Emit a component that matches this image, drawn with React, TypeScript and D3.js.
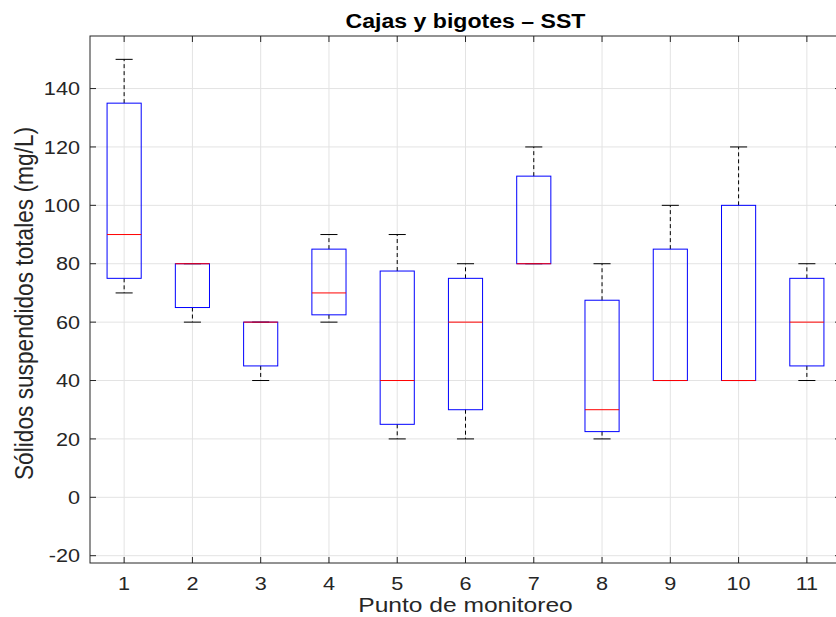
import { useEffect, useRef } from 'react';
import * as d3 from 'd3';

// Punto de monitoreo
const puntos = [1, 2, 3, 4, 5, 6, 7, 8, 9, 10, 11];
// box statistics (mg/L)
const whiskerLow = [70, 60, 40, 60, 20, 20, 80, 20, 40, 40, 40];
const q1 = [75, 65, 45, 62.5, 25, 30, 80, 22.5, 40, 40, 45];
const median = [90, 80, 60, 70, 40, 60, 80, 30, 40, 40, 60];
const q3 = [135, 80, 60, 85, 77.5, 75, 110, 67.5, 85, 100, 75];
const whiskerHigh = [150, 80, 60, 90, 90, 80, 120, 80, 100, 120, 80];
const yTicks = [-20, 0, 20, 40, 60, 80, 100, 120, 140];

export default function App() {
  const ref = useRef<SVGSVGElement>(null);

  useEffect(() => {
    const W = 836, H = 617;
    const margin = { top: 36, right: -5, bottom: 54, left: 90 };
    const width = W - margin.left - margin.right;
    const height = H - margin.top - margin.bottom;
    const font = 'Liberation Sans, Arial, Helvetica, sans-serif';
    const axisColor = '#262626';
    const sx = 1.14; // the source image is a bit stretched horizontally

    const root = d3.select(ref.current);
    root.selectAll('*').remove();
    const svg = root.append('g').attr('transform', `translate(${margin.left},${margin.top})`);

    const x = d3.scaleLinear().domain([0.5, 11.5]).range([0, width]);
    const y = d3.scaleLinear().domain([-22.5, 158]).range([height, 0]);

    // grid
    svg.append('g').selectAll('line').data(puntos).enter().append('line')
      .attr('x1', d => x(d)).attr('x2', d => x(d)).attr('y1', 0).attr('y2', height)
      .attr('stroke', '#e3e3e3').attr('stroke-width', 1);
    svg.append('g').selectAll('line').data(yTicks).enter().append('line')
      .attr('x1', 0).attr('x2', width).attr('y1', d => y(d)).attr('y2', d => y(d))
      .attr('stroke', '#e3e3e3').attr('stroke-width', 1);

    const data = puntos.map((p, i) => ({
      p, lo: whiskerLow[i], q1: q1[i], med: median[i], q3: q3[i], hi: whiskerHigh[i]
    }));
    const boxW = x(1.25) - x(1);
    const capW = x(1.125) - x(1);

    const g = svg.append('g').selectAll('g').data(data).enter().append('g');

    // whiskers
    g.append('line')
      .attr('x1', d => x(d.p)).attr('x2', d => x(d.p))
      .attr('y1', d => y(d.q3)).attr('y2', d => y(d.hi))
      .attr('stroke', '#000').attr('stroke-dasharray', '4,3');
    g.append('line')
      .attr('x1', d => x(d.p)).attr('x2', d => x(d.p))
      .attr('y1', d => y(d.q1)).attr('y2', d => y(d.lo))
      .attr('stroke', '#000').attr('stroke-dasharray', '4,3');
    g.append('line')
      .attr('x1', d => x(d.p) - capW).attr('x2', d => x(d.p) + capW)
      .attr('y1', d => y(d.hi)).attr('y2', d => y(d.hi))
      .attr('stroke', '#000');
    g.append('line')
      .attr('x1', d => x(d.p) - capW).attr('x2', d => x(d.p) + capW)
      .attr('y1', d => y(d.lo)).attr('y2', d => y(d.lo))
      .attr('stroke', '#000');

    // boxes
    g.append('rect')
      .attr('x', d => x(d.p) - boxW).attr('width', 2 * boxW)
      .attr('y', d => y(d.q3)).attr('height', d => y(d.q1) - y(d.q3))
      .attr('fill', 'none').attr('stroke', '#0000ff').attr('stroke-width', 1);

    // medians
    g.append('line')
      .attr('x1', d => x(d.p) - boxW).attr('x2', d => x(d.p) + boxW)
      .attr('y1', d => y(d.med)).attr('y2', d => y(d.med))
      .attr('stroke', '#ff0000').attr('stroke-width', 1);

    // axes box
    svg.append('rect')
      .attr('x', 0).attr('y', 0).attr('width', width).attr('height', height)
      .attr('fill', 'none').attr('stroke', axisColor).attr('stroke-width', 1);

    const tl = 6;
    // x ticks (bottom and top, inward)
    svg.append('g').selectAll('line').data(puntos).enter().append('line')
      .attr('x1', d => x(d)).attr('x2', d => x(d)).attr('y1', height).attr('y2', height - tl)
      .attr('stroke', axisColor);
    svg.append('g').selectAll('line').data(puntos).enter().append('line')
      .attr('x1', d => x(d)).attr('x2', d => x(d)).attr('y1', 0).attr('y2', tl)
      .attr('stroke', axisColor);
    // y ticks (left and right, inward)
    svg.append('g').selectAll('line').data(yTicks).enter().append('line')
      .attr('x1', 0).attr('x2', tl).attr('y1', d => y(d)).attr('y2', d => y(d))
      .attr('stroke', axisColor);
    svg.append('g').selectAll('line').data(yTicks).enter().append('line')
      .attr('x1', width).attr('x2', width - tl).attr('y1', d => y(d)).attr('y2', d => y(d))
      .attr('stroke', axisColor);

    // tick labels
    svg.append('g').selectAll('text').data(puntos).enter().append('text')
      .attr('transform', d => `translate(${x(d)},${height + 27}) scale(${sx},1)`)
      .attr('text-anchor', 'middle').attr('font-family', font).attr('font-size', 19)
      .attr('fill', axisColor).text(d => d);
    svg.append('g').selectAll('text').data(yTicks).enter().append('text')
      .attr('transform', d => `translate(-10,${y(d)}) scale(${sx},1)`)
      .attr('dy', '0.35em')
      .attr('text-anchor', 'end').attr('font-family', font).attr('font-size', 19)
      .attr('fill', axisColor).text(d => d);

    // labels
    svg.append('text')
      .attr('transform', `translate(${(x(0.5) + x(11.5)) / 2},${height + 49}) scale(1.2,1)`)
      .attr('text-anchor', 'middle').attr('font-family', font).attr('font-size', 20.5)
      .attr('fill', axisColor).text('Punto de monitoreo');
    svg.append('text')
      .attr('transform', `translate(${-57},${height / 2 + 4}) rotate(-90) scale(1,1.14)`)
      .attr('text-anchor', 'middle').attr('font-family', font).attr('font-size', 22.7)
      .attr('fill', axisColor).text('Sólidos suspendidos totales (mg/L)');
    svg.append('text')
      .attr('transform', `translate(${(x(0.5) + x(11.5)) / 2},-8) scale(1.1,1)`)
      .attr('text-anchor', 'middle').attr('font-family', font).attr('font-size', 21)
      .attr('font-weight', 'bold').attr('fill', '#000').text('Cajas y bigotes – SST');
  }, []);

  return (
    <svg ref={ref} width={836} height={617}
      style={{ position: 'absolute', left: 0, top: 0, background: '#fff' }} />
  );
}
